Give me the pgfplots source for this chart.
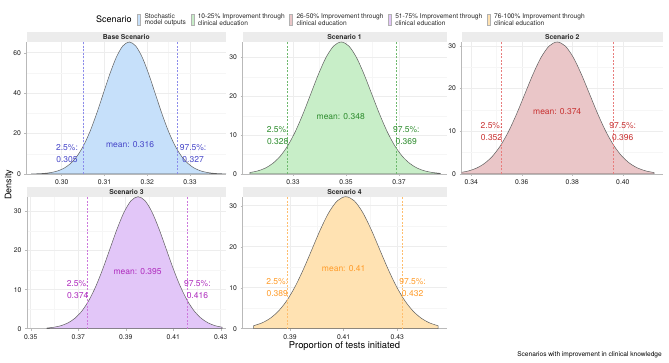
\documentclass[border=0pt]{standalone}
\usepackage{fontspec}
\setmainfont{TeX Gyre Heros}
\usepackage{pgfplots}
\usepackage{pgfplotstable}
\pgfplotsset{compat=1.18}

% panel colours: fill, annotation text, quantile lines
\definecolor{fillB}{RGB}{198,224,250}
\definecolor{fillA}{RGB}{200,238,200}
\definecolor{fillC}{RGB}{234,198,200}
\definecolor{fillD}{RGB}{226,198,248}
\definecolor{fillE}{RGB}{255,226,178}
\definecolor{txtB}{RGB}{70,70,200}
\definecolor{txtA}{RGB}{45,140,45}
\definecolor{txtC}{RGB}{200,50,50}
\definecolor{txtD}{RGB}{175,45,190}
\definecolor{txtE}{RGB}{255,155,40}
\definecolor{lnB}{RGB}{140,140,235}
\definecolor{lnA}{RGB}{110,185,110}
\definecolor{lnC}{RGB}{232,125,125}
\definecolor{lnD}{RGB}{205,120,220}
\definecolor{lnE}{RGB}{255,190,110}
\definecolor{curvegray}{RGB}{95,95,95}
\definecolor{stripgray}{RGB}{236,236,236}

% density curves (proportion, density)
\pgfplotstableread{
x y
0.292925 0.06
0.29445 0.14
0.295975 0.33
0.2975 0.73
0.299025 1.49
0.30055 2.87
0.302075 5.20
0.3036 8.84
0.305125 14.12
0.30665 21.20
0.308175 29.90
0.3097 39.61
0.311225 49.29
0.31275 57.63
0.314275 63.29
0.3158 65.30
0.317325 63.29
0.31885 57.63
0.320375 49.29
0.3219 39.61
0.323425 29.90
0.32495 21.20
0.326475 14.12
0.328 8.84
0.329525 5.20
0.33105 2.87
0.332575 1.49
0.3341 0.73
0.335625 0.33
0.33715 0.14
0.338675 0.06
}\tabBase

\pgfplotstableread{
x y
0.3137 0.38
0.316575 0.77
0.31945 1.49
0.322325 2.71
0.3252 4.60
0.328075 7.35
0.33095 11.04
0.333825 15.57
0.3367 20.62
0.339575 25.66
0.34245 30.01
0.345325 32.95
0.3482 34.00
0.351075 32.95
0.35395 30.01
0.356825 25.66
0.3597 20.62
0.362575 15.57
0.36545 11.04
0.368325 7.35
0.3712 4.60
0.374075 2.71
0.37695 1.49
0.379825 0.77
0.3827 0.38
0.385575 0.17
}\tabScenA

\pgfplotstableread{
x y
0.3356 0.34
0.3388 0.70
0.3420 1.36
0.3452 2.46
0.3484 4.18
0.3516 6.68
0.3548 10.03
0.3580 14.15
0.3612 18.74
0.3644 23.32
0.3676 27.27
0.3708 29.95
0.3740 30.90
0.3772 29.95
0.3804 27.27
0.3836 23.32
0.3868 18.74
0.3900 14.15
0.3932 10.03
0.3964 6.68
0.3996 4.18
0.4028 2.46
0.4060 1.36
0.4092 0.70
0.4124 0.34
}\tabScenB

\pgfplotstableread{
x y
0.35685 0.17
0.3598 0.38
0.36275 0.77
0.3657 1.49
0.36865 2.69
0.3716 4.57
0.37455 7.31
0.3775 10.97
0.38045 15.47
0.3834 20.50
0.38635 25.51
0.3893 29.83
0.39225 32.76
0.3952 33.80
0.39815 32.76
0.4011 29.83
0.40405 25.51
0.4070 20.50
0.40995 15.47
0.4129 10.97
0.41585 7.31
0.4188 4.57
0.42175 2.69
0.4247 1.49
0.42765 0.77
0.4306 0.38
}\tabScenC

\pgfplotstableread{
x y
0.376425 0.73
0.37955 1.41
0.382675 2.56
0.3858 4.36
0.388925 6.96
0.39205 10.45
0.395175 14.74
0.3983 19.53
0.401425 24.31
0.40455 28.42
0.407675 31.21
0.4108 32.20
0.413925 31.21
0.41705 28.42
0.420175 24.31
0.4233 19.53
0.426425 14.74
0.42955 10.45
0.432675 6.96
0.4358 4.36
0.438925 2.56
0.44205 1.41
0.445175 0.73
}\tabScenD

\pgfplotsset{
  panel/.style={
    scale only axis, anchor=south west,
    axis x line*=bottom, axis y line*=left,
    axis line style={draw=gray!55, line width=0.8pt},
    tick align=outside, major tick length=2pt,
    tick style={draw=gray!55, line width=0.4pt},
    grid=both,
    major grid style={draw=gray!14, line width=0.45pt},
    minor grid style={draw=gray!7, line width=0.3pt},
    minor tick num=1, minor tick length=0pt,
    ymin=0, scaled ticks=false,
    /pgf/number format/assume math mode=true,
    tick label style={font=\fontsize{6.8}{8}\selectfont, text=gray!25!black},
    x tick label style={/pgf/number format/.cd, fixed, fixed zerofill, precision=2, /tikz/.cd},
    y tick label style={/pgf/number format/.cd, fixed, precision=0, /tikz/.cd},
  },
  dens/.style={draw=curvegray, line width=0.5pt, smooth, fill=#1},
  qline/.style={draw=#1, fill=none, mark=none, dash pattern=on 2pt off 1.5pt, line width=0.5pt},
}
\tikzset{
  ann/.style={text=#1, align=center, inner sep=0pt, font=\fontsize{8.5}{11.8}\selectfont},
  strip/.style={inner sep=0pt, font=\bfseries\fontsize{6.8}{8}\selectfont, text=black!85},
  key/.style={rectangle, minimum width=3pt, minimum height=11.5pt, inner sep=0pt, draw=gray!60, line width=0.4pt, fill=#1},
  leg/.style={align=left, inner sep=0pt, font=\fontsize{6.6}{6.5}\selectfont, text=black!85},
}

\begin{document}
\begin{tikzpicture}
\useasboundingbox (0pt,0pt) rectangle (669pt,363pt);

% ---------- Base Scenario ----------
\fill[stripgray] (26.5pt,321pt) rectangle (226pt,331pt);
\node[strip] at (126.25pt,326pt) {Base Scenario};
\begin{axis}[panel, at={(26.5pt,189pt)}, width=199.5pt, height=132pt,
  xmin=0.29177, xmax=0.33842, ymax=65.3,
  xtick={0.30,0.31,0.32,0.33}, ytick={0,20,40,60}]
\addplot[dens=fillB] table[x=x,y=y]{\tabBase} \closedcycle;
\addplot[qline=lnB] coordinates {(0.305,0) (0.305,65.3)};
\addplot[qline=lnB] coordinates {(0.327,0) (0.327,65.3)};
\node[ann=txtB, anchor=east, xshift=-5pt] at (axis cs:0.305,10) {2.5\%:\\0.305};
\node[ann=txtB, anchor=west, xshift=2.5pt] at (axis cs:0.327,10) {97.5\%:\\0.327};
\node[ann=txtB] at (axis cs:0.316,14.4) {mean: 0.316};
\end{axis}

% ---------- Scenario 1 ----------
\fill[stripgray] (242.5pt,321pt) rectangle (446.5pt,331pt);
\node[strip] at (344.5pt,326pt) {Scenario 1};
\begin{axis}[panel, at={(242.5pt,189pt)}, width=204pt, height=132pt,
  xmin=0.31094, xmax=0.38792, ymax=34.0,
  xtick={0.33,0.35,0.37}, ytick={0,10,20,30}]
\addplot[dens=fillA] table[x=x,y=y]{\tabScenA} \closedcycle;
\addplot[qline=lnA] coordinates {(0.328,0) (0.328,34)};
\addplot[qline=lnA] coordinates {(0.369,0) (0.369,34)};
\node[ann=txtA, anchor=east, xshift=1pt] at (axis cs:0.328,10) {2.5\%:\\0.328};
\node[ann=txtA, anchor=west, xshift=-3.5pt] at (axis cs:0.369,10) {97.5\%:\\0.369};
\node[ann=txtA] at (axis cs:0.348,14.7) {mean: 0.348};
\end{axis}

% ---------- Scenario 2 ----------
\fill[stripgray] (461.5pt,321pt) rectangle (663pt,331pt);
\node[strip] at (562.25pt,326pt) {Scenario 2};
\begin{axis}[panel, at={(461.5pt,189pt)}, width=201.5pt, height=132pt,
  xmin=0.33612, xmax=0.41589, ymax=30.9,
  xtick={0.34,0.36,0.38,0.40}, ytick={0,10,20,30}]
\addplot[dens=fillC] table[x=x,y=y]{\tabScenB} \closedcycle;
\addplot[qline=lnC] coordinates {(0.352,0) (0.352,30.9)};
\addplot[qline=lnC] coordinates {(0.396,0) (0.396,30.9)};
\node[ann=txtC, anchor=east, xshift=1pt] at (axis cs:0.352,10) {2.5\%:\\0.352};
\node[ann=txtC, anchor=west, xshift=-3.5pt] at (axis cs:0.396,10) {97.5\%:\\0.396};
\node[ann=txtC] at (axis cs:0.374,14.7) {mean: 0.374};
\end{axis}

% ---------- Scenario 3 ----------
\fill[stripgray] (27pt,166.3pt) rectangle (226pt,176.3pt);
\node[strip] at (126.5pt,171.3pt) {Scenario 3};
\begin{axis}[panel, at={(27pt,34.3pt)}, width=199pt, height=132pt,
  xmin=0.34844, xmax=0.43223, ymax=33.8,
  xtick={0.35,0.37,0.39,0.41,0.43}, ytick={0,10,20,30}]
\addplot[dens=fillD] table[x=x,y=y]{\tabScenC} \closedcycle;
\addplot[qline=lnD] coordinates {(0.374,0) (0.374,33.8)};
\addplot[qline=lnD] coordinates {(0.416,0) (0.416,33.8)};
\node[ann=txtD, anchor=east, xshift=1pt] at (axis cs:0.374,10) {2.5\%:\\0.374};
\node[ann=txtD, anchor=west, xshift=-3.5pt] at (axis cs:0.416,10) {97.5\%:\\0.416};
\node[ann=txtD] at (axis cs:0.395,14.7) {mean: 0.395};
\end{axis}

% ---------- Scenario 4 ----------
\fill[stripgray] (242.5pt,166.3pt) rectangle (446.5pt,176.3pt);
\node[strip] at (344.5pt,171.3pt) {Scenario 4};
\begin{axis}[panel, at={(242.5pt,34.3pt)}, width=204pt, height=132pt,
  xmin=0.3723, xmax=0.44834, ymax=32.2,
  xtick={0.39,0.41,0.43}, ytick={0,10,20,30}]
\addplot[dens=fillE] table[x=x,y=y]{\tabScenD} \closedcycle;
\addplot[qline=lnE] coordinates {(0.389,0) (0.389,32.2)};
\addplot[qline=lnE] coordinates {(0.432,0) (0.432,32.2)};
\node[ann=txtE, anchor=east, xshift=1pt] at (axis cs:0.389,10) {2.5\%:\\0.389};
\node[ann=txtE, anchor=west, xshift=-3.5pt] at (axis cs:0.432,10) {97.5\%:\\0.432};
\node[ann=txtE] at (axis cs:0.41,14.7) {mean: 0.41};
\end{axis}

% ---------- axis titles and caption ----------
\node[rotate=90, inner sep=0pt, font=\fontsize{9}{10}\selectfont] at (9pt,178pt) {Density};
\node[inner sep=0pt, font=\fontsize{9.4}{11}\selectfont] at (344.5pt,17.3pt) {Proportion of tests initiated};
\node[anchor=east, inner sep=0pt, font=\fontsize{6.6}{8}\selectfont] at (662pt,8pt) {Scenarios with improvement in clinical knowledge};

% ---------- legend ----------
\node[anchor=west, inner sep=0pt, font=\fontsize{9}{10}\selectfont] (lt) at (96pt,343.3pt) {Scenario};
\node[key=fillB, anchor=west, xshift=5.5pt] (k1) at (lt.east) {};
\node[leg, anchor=west, xshift=3.5pt] (l1) at (k1.east) {Stochastic\\model outputs};
\node[key=fillA, anchor=west, xshift=4.5pt] (k2) at (l1.east) {};
\node[leg, anchor=west, xshift=3.5pt] (l2) at (k2.east) {10-25\% Improvement through\\clinical education};
\node[key=fillC, anchor=west, xshift=4.5pt] (k3) at (l2.east) {};
\node[leg, anchor=west, xshift=3.5pt] (l3) at (k3.east) {26-50\% Improvement through\\clinical education};
\node[key=fillD, anchor=west, xshift=4.5pt] (k4) at (l3.east) {};
\node[leg, anchor=west, xshift=3.5pt] (l4) at (k4.east) {51-75\% Improvement through\\clinical education};
\node[key=fillE, anchor=west, xshift=4.5pt] (k5) at (l4.east) {};
\node[leg, anchor=west, xshift=3.5pt] (l5) at (k5.east) {76-100\% Improvement through\\clinical education};
\end{tikzpicture}
\end{document}
